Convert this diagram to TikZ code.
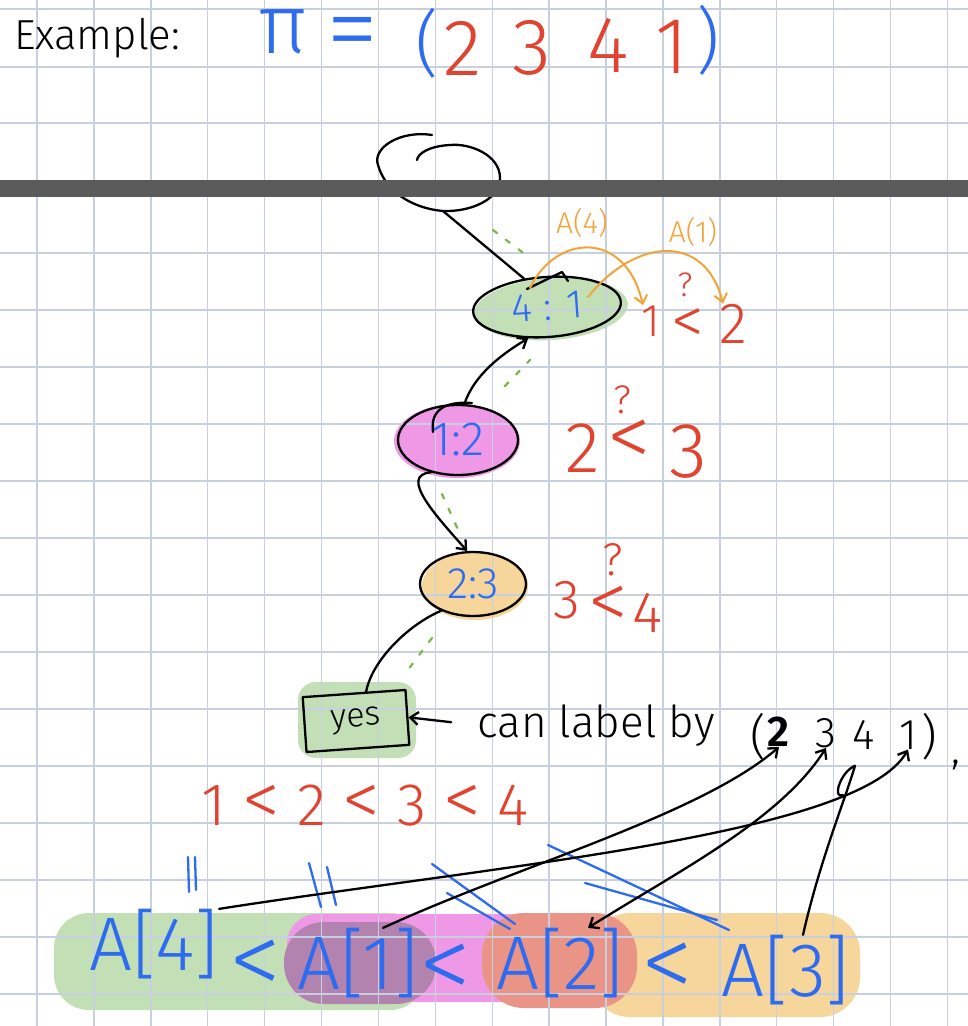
\documentclass[tikz,border=0pt]{standalone}
\usepackage{fontspec}
\setmainfont{Fira Sans Light}
\usetikzlibrary{shapes.geometric,arrows.meta}
\definecolor{inkblue}{HTML}{2D6CF0}
\definecolor{inkred}{HTML}{E0432F}
\definecolor{inkorange}{HTML}{F2A33A}
\definecolor{hlgreen}{HTML}{C3DFB6}
\definecolor{hlpink}{HTML}{EF99E6}
\definecolor{hlsand}{HTML}{F6D69A}
\definecolor{hlplum}{HTML}{B283AE}
\definecolor{hlsalmon}{HTML}{EA9488}
\definecolor{dashgreen}{HTML}{7AB648}
\definecolor{gridcol}{HTML}{C8D0E0}
\definecolor{barcol}{HTML}{5B5B5B}
\newcommand\fsz[1]{\fontsize{#1}{#1}\selectfont}

\begin{document}
\begin{tikzpicture}[x=1pt,y=-1pt,
    pen/.style={line width=2.3pt,line cap=round,line join=round},
    barb/.style={-{Straight Barb[length=8pt,width=13pt]}},
    ink/.style={inner sep=0pt},
    gdash/.style={draw=dashgreen,line width=2.2pt,line cap=round,dash pattern=on 5pt off 11pt},
    gridline/.style={draw=gridcol,line width=1.4pt},
    oval/.style={ellipse,draw,pen,inner sep=0pt}]
\useasboundingbox (0,0) rectangle (968,1026);
\fill[white] (0,0) rectangle (968,1026);

% highlighter
\fill[hlgreen,rotate around={4:(551,309)}] (551,309) ellipse (77 and 31);
\fill[hlpink] (457,441) ellipse (63 and 37);
\fill[hlsand] (475,586) ellipse (53 and 34);
\fill[hlgreen,rounded corners=18pt] (298,682) rectangle (416,758);
\fill[hlgreen,rounded corners=35pt] (54,913) rectangle (425,1010);
\fill[hlpink,rounded corners=30pt] (287,914) rectangle (615,1002);
\fill[hlsand,rounded corners=40pt] (590,913) rectangle (860,1017);
\fill[hlplum,rounded corners=40pt] (284,922) rectangle (436,1004);
\fill[hlsalmon,rounded corners=42pt] (482,913) rectangle (637,1008);

% paper
\foreach \gx in {0,...,16}
  \draw[gridline] (37+56.9*\gx,0) -- (37+56.9*\gx,1026);
\foreach \gy in {9,67,123}
  \draw[gridline] (0,\gy) -- (968,\gy);
\foreach \k in {0,...,13}
  \draw[gridline] (0,253+57*\k) -- (968,253+57*\k);

% heading
\node[ink,font=\fsz{42}] (ex) at (97,38) {Example:};
\node[ink,text=inkblue,font=\fsz{84}] (pi) at (283,32) {π};
\node[ink,text=inkblue,anchor=base,font=\fsz{106}] (eq) at (353,64) {=};
\node[ink,text=inkblue,font=\fsz{72}] (lpar) at (427,43) {(};
\node[ink,text=inkred,font=\fsz{80}] (p2) at (463,48) {2};
\node[ink,text=inkred,font=\fsz{80}] (p3) at (532,48) {3};
\node[ink,text=inkred,font=\fsz{80}] (p4) at (608,45) {4};
\node[ink,text=inkred,font=\fsz{80}] (p1) at (672,47) {1};
\node[ink,text=inkblue,font=\fsz{72}] (rpar) at (708,40) {)};

% root curl, cut by the bar
\draw[pen] (432,135) .. controls (400,130) and (372,148) .. (378,165)
  .. controls (385,190) and (410,208) .. (443,211)
  .. controls (470,212) and (500,200) .. (500,178)
  .. controls (500,155) and (470,143) .. (450,145)
  .. controls (430,146) and (418,153) .. (417,160);
\fill[barcol] (0,180) rectangle (968,197);
\coordinate (root) at (443,211);

% tree
\node[oval,minimum width=148pt,minimum height=60pt,rotate=4,text=inkblue,font=\fsz{40}] (n41) at (547,307) {4 : 1};
\node[oval,minimum width=120pt,minimum height=70pt,text=inkblue,font=\fsz{48}] (n12) at (458,440) {1:2};
\node[oval,minimum width=106pt,minimum height=64pt,text=inkblue,font=\fsz{44}] (n23) at (473,584) {2:3};
\node[draw,pen,minimum width=103pt,minimum height=55pt,rotate=4,inner sep=0pt,font=\fsz{34}] (yes) at (356,721) {yes};

\draw[pen] (root) -- (n41.125);
\draw[pen] (527,289) -- (562,272) -- (568,281);
\draw[pen] (433,432) .. controls (430,410) and (445,401) .. (472,403);
\draw[pen,barb] (n12.80) .. controls +(10,-30) and +(-25,15) .. (n41.-125);
\draw[pen,barb] (n12.-130) .. controls (398,475) and (437,517) .. (n23.100);
\draw[pen] (n23.-140) .. controls +(-35,15) and +(5,-30) .. ([xshift=12pt]yes.north);

\draw[gdash] (493,230) -- (530,258);
\draw[gdash] (505,386) -- (530,360);
\draw[gdash] (442,494) -- (459,532);
\draw[gdash] (432,638) -- (404,675);

% comparisons
\node[ink,text=inkred,anchor=base,font=\fsz{46}] (c1l) at (651,336) {1};
\node[ink,text=inkred,anchor=base,font=\fsz{66}] (c1m) at (688,343) {<};
\node[ink,text=inkred,anchor=base,font=\fsz{34}] (c1q) at (685,296) {?};
\node[ink,text=inkred,anchor=base,font=\fsz{58}] (c1r) at (733,343) {2};
\node[ink,text=inkred,anchor=base,font=\fsz{72}] (c2l) at (583,472) {2};
\node[ink,text=inkred,anchor=base,font=\fsz{88}] (c2m) at (629,466) {<};
\node[ink,text=inkred,anchor=base,font=\fsz{40}] (c2q) at (622,413) {?};
\node[ink,text=inkred,anchor=base,font=\fsz{78}] (c2r) at (688,477) {3};
\node[ink,text=inkred,anchor=base,font=\fsz{55}] (c3l) at (567,618) {3};
\node[ink,text=inkred,anchor=base,font=\fsz{80}] (c3m) at (608,628) {<};
\node[ink,text=inkred,anchor=base,font=\fsz{46}] (c3q) at (613,575) {?};
\node[ink,text=inkred,anchor=base,font=\fsz{58}] (c3r) at (648,632) {4};

\node[ink,text=inkorange,font=\fsz{30}] (la4) at (582,223) {A(4)};
\node[ink,text=inkorange,font=\fsz{30}] (la1) at (693,232) {A(1)};
\draw[pen,line width=2pt,draw=inkorange,barb] (530,288) .. controls (555,235) and (625,228) .. ([xshift=-8pt]c1l.north);
\draw[pen,line width=2pt,draw=inkorange,barb] (588,297) .. controls (635,238) and (705,232) .. ([xshift=-10pt]c1r.north);

% labelling
\node[ink,anchor=base west,font=\fsz{44}] (lab) at (477,737) {can label by};
\draw[pen,barb,shorten <=26pt] (lab.west) -- (yes.east);
\node[ink,font=\fsz{48}] (tl) at (758,737) {(};
\node[ink,font=\bfseries\fsz{43}] (t2) at (779,732) {2};
\node[ink,font=\fsz{43}] (t3) at (826,733) {3};
\node[ink,font=\fsz{43}] (t4) at (864,735) {4};
\node[ink,font=\fsz{43}] (t1) at (908,735) {1};
\node[ink,font=\fsz{48}] (tr) at (929,737) {)};
\node[ink,font=\fsz{43}] (tc) at (956,765) {,};

\node[ink,text=inkred,anchor=base,font=\fsz{60}] (ord) at (365,825)
  {1 {\fsz{76}<} 2 {\fsz{76}<} 3 {\fsz{76}<} 4};

% sorted array
\node[ink,text=inkblue,font=\fsz{76}] (a4) at (154,944) {A[4]};
\node[ink,text=inkblue,anchor=base,font=\fsz{105}] (lt1) at (256,995) {<};
\node[ink,text=inkblue,font=\fsz{76}] (a1) at (358,963) {A[1]};
\node[ink,text=inkblue,anchor=base,font=\fsz{105}] (lt2) at (446,999) {<};
\node[ink,text=inkblue,font=\fsz{76}] (a2) at (560,963) {A[2]};
\node[ink,text=inkblue,anchor=base,font=\fsz{105}] (lt3) at (668,998) {<};
\node[ink,text=inkblue,font=\fsz{76}] (a3) at (786,970) {A[3]};

\draw[pen,draw=inkblue] (188,857) -- (189,892);
\draw[pen,draw=inkblue] (195,857) -- (196,890);
\draw[pen,draw=inkblue] (309,863) -- (321,907);
\draw[pen,draw=inkblue] (327,867) -- (336,905);
\draw[pen,draw=inkblue] (432,864) -- (515,924);
\draw[pen,draw=inkblue] (447,893) -- (510,929);
\draw[pen,draw=inkblue] (548,845) -- (729,930);
\draw[pen,draw=inkblue] (585,883) -- (717,920);

\draw[pen,barb] (a4.north east) .. controls (500,865) and (860,835) .. (t1.south);
\draw[pen,barb] ([xshift=25pt]a1.north) .. controls (520,865) and (700,815) .. (t2.south);
\draw[pen,{Straight Barb[length=8pt,width=13pt]}-{Straight Barb[length=8pt,width=13pt]}] ([xshift=28pt]a2.north) .. controls (680,870) and (780,820) .. (t3.south);
\draw[pen] ([xshift=17pt]a3.north) .. controls (820,860) and (845,800) .. ([shift={(-9,16)}]t4.south)
  .. controls (840,772) and (832,800) .. (843,795);
\end{tikzpicture}
\end{document}
